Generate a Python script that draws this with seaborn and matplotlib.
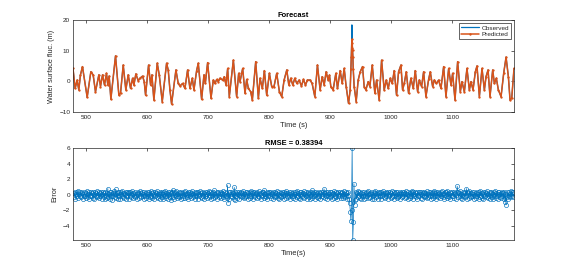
import numpy as np
import pandas as pd
import matplotlib
matplotlib.use("Agg")
import matplotlib.pyplot as plt
import seaborn as sns

# ---------------- data ----------------
time_s = [
    479.0, 482.5, 485.8, 488.5, 491.2, 494.5, 502.2, 508.2, 512.0, 515.8,
    521.3, 524.0, 527.3, 530.6, 533.8, 536.0, 538.2, 541.0, 548.6, 554.1,
    556.8, 561.2, 565.5, 569.4, 573.2, 576.5, 578.7, 581.9, 585.8, 588.5,
    592.9, 595.6, 597.8, 602.7, 606.0, 608.2, 611.4, 616.9, 620.2, 625.1,
    632.2, 634.9, 637.7, 640.4, 647.5, 651.3, 654.1, 658.4, 662.3, 666.6,
    670.4, 674.3, 677.0, 681.4, 684.1, 689.6, 693.4, 695.6, 699.4, 704.9,
    708.7, 711.4, 714.2, 716.9, 719.6, 724.0, 726.7, 729.5, 732.2, 734.9,
    741.5, 746.9, 750.2, 752.4, 756.8, 760.6, 763.3, 766.1, 769.9, 772.6,
    778.1, 782.5, 785.2, 789.0, 792.3, 796.1, 800.5, 804.3, 808.1, 812.5,
    816.9, 820.7, 824.6, 829.0, 832.3, 835.5, 838.8, 842.1, 845.4, 849.2,
    853.0, 856.3, 859.6, 862.8, 867.2, 870.5, 874.9, 879.2, 883.6, 886.9,
    890.2, 893.4, 896.7, 898.9, 901.1, 904.9, 909.3, 912.0, 916.4, 919.7,
    923.0, 926.2, 930.1, 932.8, 934.0, 934.6, 935.1, 935.6, 936.1, 936.6,
    937.2, 937.8, 939.3, 942.6, 945.9, 949.2, 953.0, 955.7, 958.5, 962.3,
    965.0, 968.9, 973.2, 976.0, 980.3, 984.2, 988.5, 991.8, 995.1, 998.4,
    1001.6, 1004.9, 1008.7, 1012.0, 1015.9, 1018.6, 1021.3, 1024.6, 1028.4, 1032.2,
    1036.1, 1039.3, 1043.2, 1045.9, 1049.7, 1053.0, 1056.8, 1061.2, 1063.9, 1067.8,
    1070.5, 1073.8, 1077.6, 1081.4, 1085.8, 1089.6, 1094.0, 1097.8, 1100.5, 1104.4,
    1108.7, 1113.1, 1115.8, 1119.7, 1124.0, 1127.9, 1130.6, 1133.9, 1137.7, 1140.4,
    1144.3, 1148.6, 1152.5, 1155.2, 1158.5, 1161.7, 1166.1, 1168.9, 1172.1, 1175.4,
    1179.8, 1184.1, 1188.0, 1191.8, 1194.5, 1197.3, 1201.0,
]

predicted = [
    4.2, -2.3, 0.4, -2.8, 2.1, 4.8, -5.2, 3.1, 2.1, -3.4,
    2.1, -1.7, 2.1, -1.2, 2.6, -1.2, 1.7, -5.8, 8.3, -4.5,
    -3.9, 5.3, -2.8, 2.1, -2.3, 1.0, -1.2, 2.4, 0.2, 1.0,
    1.7, -0.1, -4.5, 5.3, -1.2, 2.1, -6.1, 5.9, 2.1, -6.6,
    5.9, 3.7, -2.8, -7.4, 3.7, -0.7, -1.5, -0.7, -2.3, 3.7,
    -2.3, 1.0, -2.8, 3.5, 5.9, -5.9, 2.1, -0.7, 6.1, -5.5,
    0.4, -0.7, 0.6, -0.1, 1.0, 0.4, 1.5, -1.2, 4.2, -5.0,
    6.9, -5.0, 2.6, -0.1, 4.2, -3.9, 0.6, -2.3, -3.4, -6.1,
    6.4, -5.5, 1.0, -2.3, 3.5, -4.5, 2.6, -1.7, -1.7, 2.6,
    -3.4, -5.0, 0.4, 3.7, -1.2, 1.0, -1.2, 1.0, -0.7, 0.4,
    -1.5, 0.6, -1.2, 0.4, 0.4, -0.7, -5.0, 5.3, -2.8, 1.5,
    -1.2, 3.1, 0.4, 2.0, -1.7, -2.8, 2.6, -2.3, 3.5, -0.7,
    4.2, -1.7, -7.2, -2.8, 4.0, 8.0, 11.0, 13.7, 12.4, 10.2,
    8.0, 4.0, -1.7, -6.6, 0.4, 3.1, 4.8, -1.7, -2.8, -0.1,
    -1.7, 5.3, -3.9, 0.4, -6.1, 6.9, -2.8, 0.4, -2.3, 1.0,
    -0.7, 3.5, -4.5, 3.1, 5.3, -2.8, -0.7, 3.1, -3.9, 1.0,
    -2.3, 3.5, -3.4, 0.4, -1.7, 3.1, -5.0, 0.6, 3.1, -1.7,
    0.4, -0.7, 0.4, -2.3, 4.8, -5.0, 4.2, -1.2, 2.6, -6.1,
    6.4, -3.4, -0.1, -3.4, 4.2, -2.8, -0.1, -2.8, 3.1, 5.0,
    -5.0, 4.2, -2.8, 1.5, 3.7, -5.0, 3.7, -0.7, 1.0, -2.8,
    -5.0, 2.6, 7.9, 1.5, -6.1, -5.5, 4.2,
]

observed = [
    4.2, -2.3, 0.4, -2.8, 2.1, 4.8, -5.2, 3.1, 2.1, -3.4,
    2.1, -1.7, 2.1, -1.2, 2.6, -1.2, 1.7, -5.8, 8.3, -4.5,
    -3.9, 5.3, -2.8, 2.1, -2.3, 1.0, -1.2, 2.4, 0.2, 1.0,
    1.7, -0.1, -4.5, 5.3, -1.2, 2.1, -6.1, 5.9, 2.1, -6.6,
    5.9, 3.7, -2.8, -7.4, 3.7, -0.7, -1.5, -0.7, -2.3, 3.7,
    -2.3, 1.0, -2.8, 3.5, 5.9, -5.9, 2.1, -0.7, 6.1, -5.5,
    0.4, -0.7, 0.6, -0.1, 1.0, 0.4, 1.5, -1.2, 4.2, -5.0,
    6.9, -5.0, 2.6, -0.1, 4.2, -3.9, 0.6, -2.3, -3.4, -6.1,
    6.4, -5.5, 1.0, -2.3, 3.5, -4.5, 2.6, -1.7, -1.7, 2.6,
    -3.4, -5.0, 0.4, 3.7, -1.2, 1.0, -1.2, 1.0, -0.7, 0.4,
    -1.5, 0.6, -1.2, 0.4, 0.4, -0.7, -5.0, 5.3, -2.8, 1.5,
    -1.2, 3.1, 0.4, 2.0, -1.7, -2.8, 2.6, -2.3, 3.5, -0.7,
    4.2, -1.7, -7.2, -2.8, 4.0, 8.0, 11.5, 18.4, 12.4, 10.2,
    8.0, 4.0, -1.7, -6.6, 0.4, 3.1, 4.8, -1.7, -2.8, -0.1,
    -1.7, 5.3, -3.9, 0.4, -6.1, 6.9, -2.8, 0.4, -2.3, 1.0,
    -0.7, 3.5, -4.5, 3.1, 5.3, -2.8, -0.7, 3.1, -3.9, 1.0,
    -2.3, 3.5, -3.4, 0.4, -1.7, 3.1, -5.0, 0.6, 3.1, -1.7,
    0.4, -0.7, 0.4, -2.3, 4.8, -5.0, 4.2, -1.2, 2.6, -6.1,
    6.4, -3.4, -0.1, -3.4, 4.2, -2.8, -0.1, -2.8, 3.1, 5.0,
    -5.0, 4.2, -2.8, 1.5, 3.7, -5.0, 3.7, -0.7, 1.0, -2.8,
    -5.0, 2.6, 7.9, 1.5, -6.1, -5.5, 4.2,
]

# error sampled once per second, starting at t = 480 s (rows of 20 s)
error_start = 480
error = [
    0.2, -0.3, 0.4, -0.5, 0.1, 0.3, -0.2, 0.5, -0.4, 0.1, -0.1, 0.3, -0.3, 0.2, 0.4, -0.5, 0.1, -0.2, 0.3, -0.1,
    -0.4, 0.2, 0.5, -0.3, 0.1, -0.5, 0.3, -0.2, 0.4, -0.1, 0.2, -0.4, 0.3, -0.6, 0.1, 0.4, -0.2, 0.2, -0.3, 0.5,
    -0.1, 0.3, -0.4, 0.2, -0.2, 0.4, -0.5, 0.1, 0.3, -0.3, 0.2, -0.6, 0.4, -0.1, 0.2, -0.4, 0.8, -0.3, 0.1, -0.5,
    0.3, -0.2, 0.4, -0.7, 0.2, -0.1, 0.5, -0.3, 0.1, 0.7, -0.4, 0.2, -0.5, 0.3, -0.2, 0.4, -0.6, 0.1, 0.3, -0.2,
    0.5, -0.3, 0.2, -0.4, 0.1, 0.3, -0.5, 0.4, -0.1, 0.2, -0.6, 0.3, -0.2, 0.4, -0.3, 0.1, 0.5, -0.4, 0.2, -0.1,
    -0.3, 0.4, -0.2, 0.1, -0.5, 0.3, 0.2, -0.4, 0.5, -0.1, 0.2, -0.3, 0.4, -0.2, 0.1, -0.5, 0.3, -0.1, 0.2, -0.4,
    0.4, -0.2, 0.1, -0.5, 0.3, -0.3, 0.5, -0.1, 0.2, -0.4, 0.3, -0.6, 0.1, 0.4, -0.2, 0.2, -0.3, 0.5, -0.4, 0.1,
    -0.2, 0.3, -0.5, 0.2, 0.4, -0.3, 0.1, -0.6, 0.3, -0.1, 0.5, -0.4, 0.2, -0.2, 0.4, -0.5, 0.1, 0.3, -0.3, 0.2,
    -0.7, 0.4, 0.65, -0.3, 0.2, -0.5, 0.3, -0.1, 0.5, -0.4, 0.1, -0.2, 0.4, -0.3, 0.2, -0.6, 0.3, -0.1, 0.2, -0.4,
    0.3, -0.2, 0.5, -0.4, 0.1, -0.3, 0.2, 0.4, -0.5, 0.1, -0.2, 0.3, -0.4, 0.2, 0.5, -0.3, 0.1, -0.2, 0.4, -0.5,
    0.2, -0.1, 0.3, -0.6, 0.4, -0.2, 0.1, 0.5, -0.3, 0.2, -0.4, 0.3, -0.1, 0.2, -0.5, 0.4, -0.2, 0.1, 0.3, -0.4,
    0.2, -0.3, 0.5, -0.1, 0.3, -0.5, 0.2, -0.2, 0.4, -0.4, 0.55, -0.3, 0.1, -0.2, 0.3, -0.5, 0.2, 0.4, -0.3, 0.1,
    -0.2, 0.3, -0.4, 0.2, 0.5, -0.3, 0.1, -0.5, 0.3, -0.1, 0.2, -0.4, 1.2, -1.0, 0.4, -0.6, 0.3, -0.2, 0.1, 0.4,
    -0.3, 0.2, -0.5, 0.95, -0.7, 0.3, -0.2, 0.4, -0.4, 0.1, 0.3, -0.5, 0.2, -0.1, 0.4, -0.3, 0.2, -0.2, 0.5, -0.4,
    0.1, -0.3, 0.3, -0.1, 0.4, -0.5, 0.2, -0.2, 0.3, -0.4, 0.5, -0.1, 0.2, -0.6, 0.3, -0.2, 0.4, -0.3, 0.1, 0.2,
    -0.4, 0.3, -0.2, 0.5, -0.3, 0.1, -0.5, 0.2, 0.4, -0.1, 0.3, -0.4, 0.6, -0.2, 0.1, -0.3, 0.4, -0.5, 0.2, -0.1,
    0.3, -0.2, 0.4, -0.4, 0.1, 0.2, -0.5, 0.3, -0.1, 0.4, -0.3, 0.2, -0.2, 0.5, -0.4, 0.1, -0.6, 0.3, -0.1, 0.2,
    -0.3, 0.4, -0.2, 0.1, -0.5, 0.3, 0.2, -0.4, 0.5, -0.1, 0.2, -0.3, 0.4, -0.2, 0.1, -0.5, 0.3, -0.1, 0.2, -0.4,
    0.4, -0.2, 0.1, -0.5, 0.3, -0.3, 0.5, -0.1, 0.2, -0.4, 0.3, -0.6, 0.1, 0.4, -0.2, 0.2, -0.3, 0.5, -0.4, 0.1,
    -0.2, 0.3, -0.5, 0.2, 0.4, -0.3, 0.1, -0.6, 0.3, -0.1, 0.6, -0.4, 0.2, -0.2, 0.4, -0.5, 0.1, 0.3, -0.3, 0.2,
    -0.4, 0.3, -0.1, 0.2, -0.5, 0.4, -0.2, 0.1, 0.3, -0.3, 0.75, -0.4, 0.2, -0.1, 0.4, -0.5, 0.3, -0.2, 0.1, -0.3,
    0.4, -0.2, 0.3, -0.5, 0.1, 0.2, -0.4, 0.5, -0.1, 0.3, -0.3, 0.2, -0.6, 0.4, -0.2, 0.1, 0.3, -0.4, 0.2, -0.1,
    0.3, -0.4, 0.5, -0.2, 0.1, -0.3, 0.4, -0.5, 0.2, -0.1, 0.3, -0.5, -1.0, -2.2, -3.3, -2.0, 6.0, -5.8, -3.5, 1.4,
    -1.3, -0.7, 0.4, -0.5, 0.2, -0.3, 0.5, -0.1, 0.3, -0.4, 0.2, -0.6, 0.4, -0.2, 0.1, -0.5, 0.3, -0.1, 0.2, -0.4,
    0.3, -0.2, 0.5, -0.4, 0.1, -0.3, 0.2, 0.4, -0.5, 0.1, -0.2, 0.3, -0.6, 0.2, 0.5, -0.3, 0.1, -0.2, 0.4, -0.5,
    0.2, -0.1, 0.3, -0.6, 0.4, -0.2, 0.1, 0.5, -0.3, 0.2, -0.4, 0.3, -0.1, 0.2, -0.5, 0.4, -0.2, 0.1, 0.3, -0.4,
    0.2, -0.3, 0.5, -0.1, 0.3, -0.5, 0.2, -0.2, 0.4, -0.4, 0.3, -0.3, 0.1, -0.2, 0.3, -0.5, 0.2, 0.4, -0.3, 0.1,
    -0.2, 0.3, -0.4, 0.2, 0.5, -0.3, 0.1, -0.5, 0.3, -0.1, 0.2, -0.4, 0.4, -0.2, 0.5, -0.6, 0.3, -0.2, 0.1, 0.4,
    -0.3, 0.2, -0.5, 0.3, -0.2, 0.3, -0.2, 0.4, -0.4, 0.1, 0.3, -0.5, 0.2, -0.1, 0.4, -0.3, 0.2, -0.2, 0.5, -0.4,
    0.1, -0.3, 0.3, -0.1, 0.4, -0.5, 0.2, -0.2, 0.3, -0.4, 0.5, -0.1, 0.2, -0.6, 0.3, -0.2, 0.4, -0.3, 0.1, 0.2,
    -0.4, 0.3, -0.2, 0.5, -0.3, 0.1, -0.5, 0.2, 0.4, -0.1, 0.3, -0.4, 0.5, -0.2, 0.1, -0.3, 0.4, -0.5, 0.2, -0.1,
    0.3, -0.2, 0.4, -0.4, 0.1, 0.2, -0.5, 0.3, 1.1, 0.4, -0.3, 0.2, -0.2, 0.5, -0.4, 0.1, -0.6, 0.3, -0.1, 0.2,
    -0.3, 0.4, -0.2, 0.8, -0.5, 0.3, 0.2, -0.4, 0.5, -0.1, 0.2, -0.3, 0.4, -0.2, 0.1, -0.5, 0.3, -0.1, 0.2, -0.4,
    0.4, -0.2, 0.1, -0.5, 0.3, -0.3, 0.5, -0.1, 0.2, -0.4, 0.3, -0.6, 0.1, 0.4, -0.2, 0.2, -0.3, 0.5, -0.4, 0.1,
    -0.2, 0.3, -0.5, 0.2, 0.4, -0.3, 0.1, -0.6, 0.3, -0.1, 0.5, -0.4, 0.2, -0.2, 0.4, -0.5, 0.1, 0.3, -0.3, 0.2,
    -0.4, 0.3, -0.1, 0.2, -0.5, 0.4, -0.9, 0.1, -1.3, -0.3, 0.4, -0.5, 0.3, -0.2, 0.1, -0.3, 0.5, -0.2, 0.3, 0.4,
    -0.3,
]

x_ticks = [500, 600, 700, 800, 900, 1000, 1100]
top_yticks = [-10, 0, 10, 20]
bottom_yticks = [-4, -2, 0, 2, 4, 6]
rmse_text = "RMSE = 0.38394"

# ---------------- build tables ----------------
df = pd.DataFrame({"time": time_s, "predicted": predicted, "observed": observed})
df_err = pd.DataFrame({"time": error_start + np.arange(len(error)), "error": error})

BLUE = "#0072BD"
ORANGE = "#D95319"
DARK = "#262626"

sns.set_style("white")
plt.rcParams["font.family"] = ["Liberation Sans", "DejaVu Sans"]

fig = plt.figure(figsize=(5.68, 2.70), dpi=100)
ax1 = fig.add_axes([73 / 568, 1 - 112 / 270, 441 / 568, 92 / 270])
ax2 = fig.add_axes([73 / 568, 1 - 240 / 270, 441 / 568, 92 / 270])

sns.lineplot(data=df, x="time", y="observed", ax=ax1, color=BLUE,
             linewidth=0.9, estimator=None, label="Observed")
sns.lineplot(data=df, x="time", y="predicted", ax=ax1, color=ORANGE,
             linewidth=1.1, marker=".", markersize=2.6,
             markeredgecolor=ORANGE, markerfacecolor=ORANGE,
             markeredgewidth=0.3, estimator=None, label="Predicted")

sns.lineplot(data=df_err, x="time", y="error", ax=ax2, color=BLUE,
             linewidth=0.5, marker="o", markersize=3.0,
             markerfacecolor="none", markeredgecolor=BLUE,
             markeredgewidth=0.45, estimator=None)

for ax in (ax1, ax2):
    ax.set_xlim(479, 1201)
    ax.set_xticks(x_ticks)
    ax.tick_params(direction="in", top=True, right=True, length=2.5,
                   width=0.5, labelsize=4.6, pad=2, colors=DARK,
                   labelcolor=DARK)
    for s in ax.spines.values():
        s.set_color(DARK)
        s.set_linewidth(0.5)
        s.set_visible(True)

ax1.set_ylim(-10, 20)
ax1.set_yticks(top_yticks)
ax2.set_ylim(-5.8, 6.0)
ax2.set_yticks(bottom_yticks)

ax1.set_title("Forecast", fontsize=5.4, fontweight="bold", pad=2, color="black")
ax2.set_title(rmse_text, fontsize=5.4, fontweight="bold", pad=2, color="black")
ax1.set_xlabel("Time (s)", fontsize=5.4, labelpad=1.5, color=DARK)
ax1.set_ylabel("Water surface fluc. (m)", fontsize=5.2, labelpad=3, color=DARK)
ax2.set_xlabel("Time(s)", fontsize=5.4, labelpad=1.5, color=DARK)
ax2.set_ylabel("Error", fontsize=5.2, labelpad=3, color=DARK)

leg = ax1.legend(loc="upper right", fontsize=4.6, frameon=True, fancybox=False,
                 edgecolor=DARK, framealpha=1, handlelength=2.8,
                 borderpad=0.3, labelspacing=0.2, handletextpad=0.4,
                 borderaxespad=0.5)
leg.get_frame().set_linewidth(0.5)

fig.savefig("out.png", dpi=100)
